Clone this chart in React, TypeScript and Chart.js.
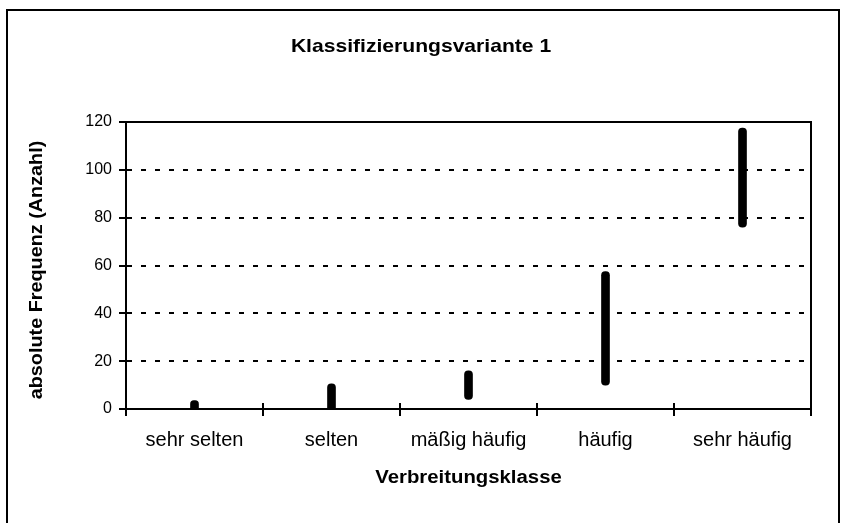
import React, { useEffect, useRef } from "react";
import { Chart, registerables } from "chart.js";

Chart.register(...registerables);

const categories = ["sehr selten", "selten", "mäßig häufig", "häufig", "sehr häufig"];
const rangeLow = [0, 0, 4, 10, 76];
const rangeHigh = [3.5, 10.5, 16, 57.5, 117.5];
const yMin = 0;
const yMax = 120;
const yStep = 20;
const chartTitle = "Klassifizierungsvariante 1";
const xTitle = "Verbreitungsklasse";
const yTitle = "absolute Frequenz (Anzahl)";

const FONT = "Arial, 'Liberation Sans', sans-serif";

function stretchedText(ctx: any, text: string, x: number, y: number, sx: number) {
  ctx.save();
  ctx.translate(x, y);
  ctx.scale(sx, 1);
  ctx.fillText(text, 0, 0);
  ctx.restore();
}

const decorPlugin = {
  id: "decor",
  beforeDraw(chart: any) {
    const ctx = chart.ctx;
    ctx.save();
    ctx.fillStyle = "#fff";
    ctx.fillRect(0, 0, chart.width, chart.height);
    ctx.strokeStyle = "#000";
    ctx.lineWidth = 2;
    ctx.strokeRect(7, 10, 832, 530);
    ctx.restore();
  },
  afterDraw(chart: any) {
    const ctx = chart.ctx;
    const a = chart.chartArea;
    ctx.save();
    ctx.strokeStyle = "#000";
    ctx.lineWidth = 2;
    // plot area top + right border
    ctx.beginPath();
    ctx.moveTo(a.left, a.top);
    ctx.lineTo(a.right, a.top);
    ctx.lineTo(a.right, a.bottom);
    ctx.stroke();
    // cross ticks on x axis between categories
    const n = categories.length;
    ctx.beginPath();
    for (let i = 0; i <= n; i++) {
      const x = Math.round(a.left + (i * (a.right - a.left)) / n);
      ctx.moveTo(x, a.bottom - 6);
      ctx.lineTo(x, a.bottom + 7);
    }
    ctx.stroke();
    // titles
    ctx.fillStyle = "#000";
    ctx.textAlign = "center";
    ctx.textBaseline = "middle";
    ctx.font = `bold 19px ${FONT}`;
    stretchedText(ctx, chartTitle, 421, 47, 1.11);
    ctx.font = `bold 18px ${FONT}`;
    stretchedText(ctx, xTitle, (a.left + a.right) / 2, 478, 1.13);
    ctx.translate(37, 270);
    ctx.rotate(-Math.PI / 2);
    ctx.font = `bold 18px ${FONT}`;
    stretchedText(ctx, yTitle, 0, 0, 1.1);
    ctx.restore();
  },
};

export default function App() {
  const ref = useRef<HTMLCanvasElement | null>(null);
  useEffect(() => {
    if (!ref.current) return;
    const chart = new Chart(ref.current, {
      type: "bar",
      data: {
        labels: categories,
        datasets: [
          {
            data: categories.map((_, i) => [rangeLow[i], rangeHigh[i]]) as any,
            backgroundColor: "#000",
            borderWidth: 0,
            barThickness: 8,
            borderRadius: 4,
            borderSkipped: ((c: any) => (rangeLow[c.dataIndex] === 0 ? "start" : false)) as any,
          },
        ],
      },
      options: {
        responsive: false,
        animation: false,
        layout: { padding: { left: 0, top: 122, right: 30, bottom: 0 } },
        plugins: {
          legend: { display: false },
          title: { display: false },
          tooltip: { enabled: false },
        },
        scales: {
          x: {
            offset: true,
            grid: { display: false, drawTicks: false },
            border: { display: true, color: "#000", width: 2 },
            ticks: {
              color: "#000",
              font: { family: FONT, size: 20 },
              padding: 19,
              maxRotation: 0,
              autoSkip: false,
            },
            afterFit: (s: any) => {
              s.height = 114;
            },
          },
          y: {
            min: yMin,
            max: yMax,
            grid: {
              color: "#000",
              lineWidth: 2,
              drawTicks: true,
              tickLength: 7,
              tickWidth: 2,
              tickColor: "#000",
              tickBorderDash: [],
            },
            border: { display: true, color: "#000", width: 2, dash: [5, 9] },
            ticks: {
              stepSize: yStep,
              color: "#000",
              font: { family: FONT, size: 16 },
              padding: 7,
            },
            afterFit: (s: any) => {
              s.width = 126;
            },
          },
        },
      },
      plugins: [decorPlugin],
    });
    return () => chart.destroy();
  }, []);
  return (
    <div style={{ position: "fixed", left: 0, top: 0, width: 841, height: 523, background: "#fff" }}>
      <canvas ref={ref} width={841} height={523} style={{ display: "block" }} />
    </div>
  );
}
